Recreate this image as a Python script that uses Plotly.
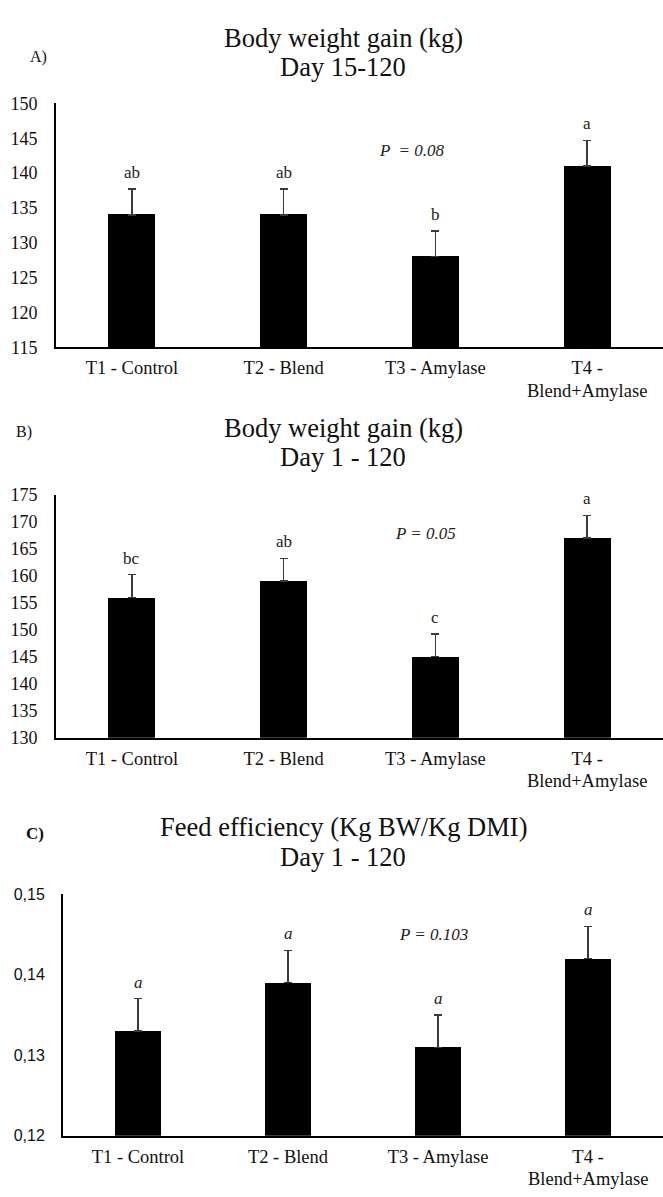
import plotly.graph_objects as go

W, H = 663, 1197

categories = ["T1 - Control", "T2 - Blend", "T3 - Amylase", "T4 -"]
category_second_line = ["", "", "", "Blend+Amylase"]

# Panel A: Body weight gain (kg), Day 15-120
gain_15_120 = [134, 134, 128, 141]
gain_15_120_err = [3.7, 3.7, 3.7, 3.7]
letters_a = ["ab", "ab", "b", "a"]

# Panel B: Body weight gain (kg), Day 1-120
gain_1_120 = [156, 159, 145, 167]
gain_1_120_err = [4.2, 4.2, 4.2, 4.2]
letters_b = ["bc", "ab", "c", "a"]

# Panel C: Feed efficiency (Kg BW/Kg DMI), Day 1-120
feed_eff = [0.133, 0.139, 0.131, 0.142]
feed_eff_err = [0.004, 0.004, 0.004, 0.004]
letters_c = ["a", "a", "a", "a"]

yticks_c = [0.12, 0.13, 0.14, 0.15]
yticklabels_c = ["0,12", "0,13", "0,14", "0,15"]

SERIF = "Liberation Serif, Times New Roman, serif"
SANS = "Liberation Sans, Arial, sans-serif"


def px_x(x):
    return x / W


def px_y(y):
    return 1 - y / H


fig = go.Figure()

panels = [
    dict(vals=gain_15_120, err=gain_15_120_err, letters=letters_a, xa="x", ya="y",
         x0=56, ytop=95, ybot=343, rng=[115, 150], dtick=5, italic_letters=False,
         title1="Body weight gain (kg)", title2="Day 15-120", t1y=28, t2y=58,
         label="A)", lx=38, ly=48, lbold=False,
         ptxt="P  = 0.08", ppos=(412, 143)),
    dict(vals=gain_1_120, err=gain_1_120_err, letters=letters_b, xa="x2", ya="y2",
         x0=56, ytop=493, ybot=740, rng=[130, 175], dtick=5, italic_letters=False,
         title1="Body weight gain (kg)", title2="Day 1 - 120", t1y=425, t2y=455,
         label="B)", lx=24, ly=429, lbold=False,
         ptxt="P = 0.05", ppos=(425, 532)),
    dict(vals=feed_eff, err=feed_eff_err, letters=letters_c, xa="x3", ya="y3",
         x0=63, ytop=899, ybot=1145, rng=[0.12, 0.15], dtick=None, italic_letters=True,
         title1="Feed efficiency (Kg BW/Kg DMI)", title2="Day 1 - 120", t1y=831, t2y=861,
         label="C)", lx=35, ly=838, lbold=True,
         ptxt="P = 0.103", ppos=(433, 940)),
]

annotations = []
layout_axes = {}

for i, p in enumerate(panels):
    n = "" if i == 0 else str(i + 1)
    xs = list(range(len(categories)))
    fig.add_trace(go.Bar(
        x=xs, y=p["vals"], width=0.31,
        marker=dict(color="black", line=dict(width=0)),
        error_y=dict(type="data", symmetric=False, array=p["err"],
                     arrayminus=[0] * len(p["err"]), color="#3a3a3a",
                     thickness=1.3, width=4),
        xaxis=p["xa"], yaxis=p["ya"], showlegend=False, hoverinfo="skip",
    ))

    layout_axes["xaxis" + n] = dict(
        domain=[px_x(p["x0"]), 1], anchor=p["ya"], range=[-0.5, 3.5],
        tickvals=xs, ticktext=categories, showline=True, linecolor="black",
        linewidth=2, ticks="", showgrid=False, zeroline=False,
        tickfont=dict(family=SERIF, size=18.5, color="#111"),
        ticklabelstandoff=3, fixedrange=True,
    )
    yax = dict(
        domain=[px_y(p["ybot"]), px_y(p["ytop"])], anchor=p["xa"], range=p["rng"],
        showline=True, linecolor="black", linewidth=2, ticks="", showgrid=False,
        zeroline=False, ticklabelstandoff=13, fixedrange=True,
    )
    if p["dtick"] is not None:
        yax.update(dtick=p["dtick"], tick0=p["rng"][0],
                   tickfont=dict(family=SERIF, size=18, color="#111"))
    else:
        yax.update(tickvals=yticks_c, ticktext=yticklabels_c,
                   tickfont=dict(family=SANS, size=16, color="#111"))
    layout_axes["yaxis" + n] = yax

    # second line of category labels
    for j, s in enumerate(category_second_line):
        if s:
            annotations.append(dict(text=s, x=j, y=px_y(p["ybot"] + 44),
                                    xref=p["xa"], yref="paper", showarrow=False,
                                    xanchor="center", yanchor="middle",
                                    font=dict(family=SERIF, size=18.5, color="#111")))

    # titles
    for t, ty in ((p["title1"], p["t1y"]), (p["title2"], p["t2y"])):
        annotations.append(dict(text=t, x=px_x(343), y=px_y(ty),
                                xref="paper", yref="paper", showarrow=False,
                                xanchor="center", yanchor="middle",
                                font=dict(family=SERIF, size=26.5, color="#111")))
    # panel label
    lab = "<b>%s</b>" % p["label"] if p["lbold"] else p["label"]
    annotations.append(dict(text=lab, x=px_x(p["lx"]), y=px_y(p["ly"]),
                            xref="paper", yref="paper", showarrow=False,
                            xanchor="center", yanchor="middle",
                            font=dict(family=SERIF, size=17 if p["lbold"] else 16, color="#111")))
    # P value
    annotations.append(dict(text="<i>%s</i>" % p["ptxt"], x=px_x(p["ppos"][0]),
                            y=px_y(p["ppos"][1]), xref="paper", yref="paper",
                            showarrow=False, xanchor="center", yanchor="middle",
                            font=dict(family=SERIF, size=17, color="#222")))
    # significance letters
    for j, (v, e, L) in enumerate(zip(p["vals"], p["err"], p["letters"])):
        txt = "<i>%s</i>" % L if p["italic_letters"] else L
        annotations.append(dict(text=txt, x=j, y=v + e, xref=p["xa"], yref=p["ya"],
                                showarrow=False, xanchor="center", yanchor="bottom",
                                yshift=5,
                                font=dict(family=SERIF, size=17, color="#222")))

fig.update_layout(
    width=W, height=H,
    margin=dict(l=0, r=0, t=0, b=0),
    paper_bgcolor="white", plot_bgcolor="white",
    bargap=0,
    annotations=annotations,
    **layout_axes,
)

fig.write_html(
    "out.html",
    config={"displayModeBar": False},
    post_script="document.body.style.margin='0';document.body.style.overflow='hidden';",
)
